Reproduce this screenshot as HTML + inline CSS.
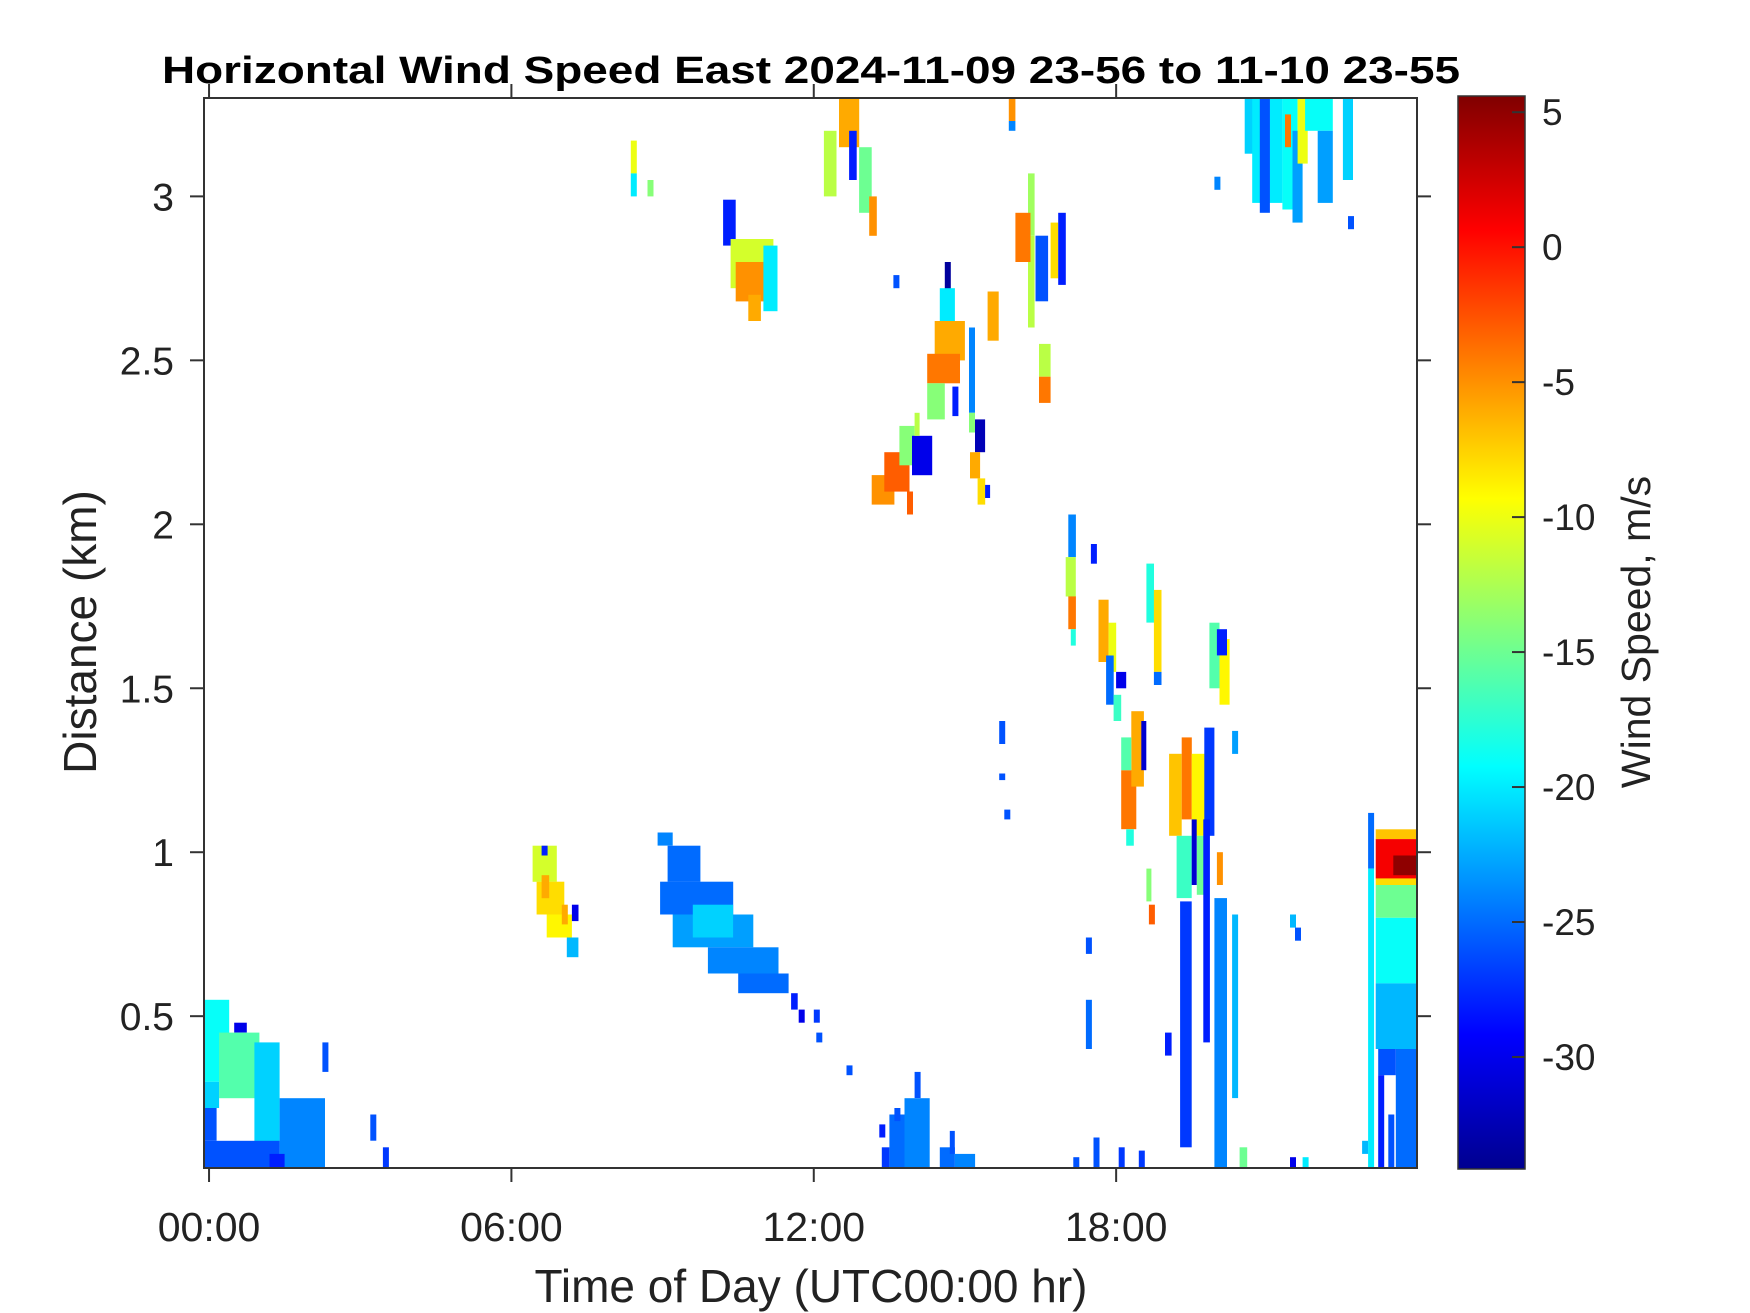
<!DOCTYPE html>
<html><head><meta charset="utf-8"><style>
html,body{margin:0;padding:0;background:#fff;}
svg{display:block;font-family:"Liberation Sans",Arial,sans-serif;}
</style></head><body>
<svg id="chart" width="1750" height="1313" viewBox="0 0 1750 1313" xmlns="http://www.w3.org/2000/svg">
<rect x="0" y="0" width="1750" height="1313" fill="#fff"/>
<text x="811" y="83" text-anchor="middle" font-size="38" font-weight="bold" fill="#000" textLength="1298" lengthAdjust="spacingAndGlyphs">Horizontal Wind Speed East 2024-11-09 23-56 to 11-10 23-55</text>
<g id="cells"></g>
<g id="axes"></g>
<defs><linearGradient id="jet" x1="0" y1="1" x2="0" y2="0">
<stop offset="0" stop-color="#00008f"/><stop offset="0.125" stop-color="#0000ff"/><stop offset="0.375" stop-color="#00ffff"/><stop offset="0.625" stop-color="#ffff00"/><stop offset="0.875" stop-color="#ff0000"/><stop offset="1" stop-color="#800000"/>
</linearGradient></defs>
<rect x="1458" y="96" width="67" height="1073" fill="url(#jet)" stroke="#333" stroke-width="1.5"/>
<g id="cbticks"></g>
<text transform="translate(1650,632) rotate(-90)" text-anchor="middle" font-size="41" fill="#222">Wind Speed, m/s</text>
<text x="811" y="1302" text-anchor="middle" font-size="46" fill="#222">Time of Day (UTC00:00 hr)</text>
<text transform="translate(96,632) rotate(-90)" text-anchor="middle" font-size="46" fill="#222">Distance (km)</text>
</svg>
<script>
// axis domains
const tMin = -0.1, tMax = 23.97;
const dMin = 0.037, dMax = 3.30;
const vMin = -34.15, vMax = 5.6;
const xTicks = [0, 6, 12, 18];
const xTickLabels = ["00:00", "06:00", "12:00", "18:00"];
const yTicks = [0.5, 1, 1.5, 2, 2.5, 3];
const yTickLabels = ["0.5", "1", "1.5", "2", "2.5", "3"];
const cbTicks = [5, 0, -5, -10, -15, -20, -25, -30];
const cbTickLabels = ["5", "0", "-5", "-10", "-15", "-20", "-25", "-30"];
// heatmap patches: [startHour, endHour, fromKm, toKm, windSpeed]
const cellData = [
[-0.1,0.4,0.30,0.55,-19],[0.2,1.0,0.25,0.45,-16],[-0.1,0.2,0.22,0.30,-21],[0.9,1.4,0.10,0.42,-21],
[-0.1,1.4,0.04,0.12,-26],[-0.1,0.15,0.12,0.22,-26],[1.4,2.3,0.04,0.25,-24],[1.2,1.5,0.04,0.08,-28],
[0.5,0.75,0.45,0.48,-30],[2.25,2.37,0.33,0.42,-26],[3.2,3.32,0.12,0.20,-26],[3.45,3.57,0.04,0.10,-27],
[6.42,6.9,0.91,1.02,-11],[6.5,7.05,0.81,0.91,-8],[6.7,7.2,0.74,0.81,-9],[7.1,7.33,0.68,0.74,-22],
[6.6,6.75,0.86,0.93,-6],[7.0,7.12,0.78,0.84,-6],[7.2,7.33,0.79,0.84,-30],[6.6,6.72,0.99,1.02,-28],
[8.9,9.2,1.02,1.06,-24],[9.1,9.75,0.91,1.02,-25],[8.95,10.4,0.81,0.91,-25],[9.2,10.8,0.71,0.81,-23],
[9.9,11.3,0.63,0.71,-24],[10.5,11.5,0.57,0.63,-25],[9.6,10.4,0.74,0.84,-21],[11.55,11.68,0.52,0.57,-28],
[11.7,11.82,0.48,0.52,-30],[12.0,12.12,0.48,0.52,-27],[12.05,12.17,0.42,0.45,-26],[12.65,12.77,0.32,0.35,-26],
[8.37,8.49,3.07,3.17,-10],[8.37,8.49,3.0,3.07,-20],[8.7,8.82,3.0,3.05,-14],
[10.2,10.45,2.85,2.99,-28],[10.35,11.2,2.72,2.87,-11],[10.45,11.05,2.68,2.8,-5],[11.0,11.28,2.65,2.85,-20],[10.7,10.95,2.62,2.7,-6],
[12.5,12.9,3.15,3.3,-6],[12.2,12.45,3.0,3.2,-12],[12.7,12.85,3.05,3.2,-28],[12.9,13.15,2.95,3.15,-15],[13.1,13.25,2.88,3.0,-5],
[13.15,13.6,2.06,2.15,-5],[13.4,13.9,2.1,2.22,-3],[13.7,14.0,2.18,2.3,-14],[13.95,14.35,2.15,2.27,-30],[14.0,14.1,2.27,2.34,-12],[13.85,13.97,2.03,2.1,-3],
[15.2,15.4,2.22,2.32,-32],[15.1,15.3,2.14,2.22,-6],[15.25,15.4,2.06,2.14,-8],[15.4,15.5,2.08,2.12,-28],
[14.6,14.72,2.7,2.8,-33],[14.5,14.8,2.62,2.72,-20],[14.4,15.0,2.5,2.62,-6],[14.25,14.9,2.43,2.52,-4],[14.25,14.6,2.32,2.43,-14],
[14.75,14.87,2.33,2.42,-28],[15.08,15.2,2.34,2.6,-24],[15.08,15.2,2.28,2.34,-14],[15.45,15.67,2.56,2.71,-6],[13.58,13.7,2.72,2.76,-26],
[15.87,16.0,3.23,3.3,-5],[15.87,16.0,3.2,3.23,-24],[16.25,16.38,2.88,3.07,-13],[16.25,16.38,2.6,2.88,-12],[16.0,16.3,2.8,2.95,-4],
[16.4,16.65,2.68,2.88,-26],[16.7,16.85,2.75,2.92,-8],[16.85,17.0,2.73,2.95,-28],[16.47,16.7,2.45,2.55,-12],[16.47,16.7,2.37,2.45,-4],
[20.55,20.75,3.13,3.3,-21],[20.7,21.3,2.98,3.3,-20],[20.85,21.05,2.95,3.3,-26],[21.3,21.6,2.96,3.3,-19],[21.5,21.7,2.92,3.2,-23],
[21.6,21.8,3.1,3.3,-10],[21.35,21.47,3.15,3.25,-4],[21.75,22.3,3.2,3.3,-19],[22.0,22.3,2.98,3.2,-23],[22.5,22.7,3.05,3.3,-21],
[22.6,22.72,2.9,2.94,-26],[19.95,20.07,3.02,3.06,-24],
[17.05,17.2,1.9,2.03,-24],[17.0,17.2,1.78,1.9,-12],[17.05,17.2,1.68,1.78,-4],[17.1,17.2,1.63,1.68,-18],[17.5,17.62,1.88,1.94,-28],
[17.65,17.85,1.58,1.77,-6],[17.85,18.0,1.55,1.7,-10],[17.8,17.95,1.45,1.6,-25],[18.0,18.2,1.5,1.55,-30],[17.95,18.1,1.4,1.48,-17],
[18.1,18.4,1.07,1.25,-4],[18.3,18.55,1.2,1.43,-6],[18.5,18.6,1.25,1.4,-31],[18.1,18.3,1.25,1.35,-16],[18.2,18.35,1.02,1.07,-18],
[18.6,18.75,1.7,1.88,-18],[18.75,18.9,1.55,1.8,-8],[18.75,18.9,1.51,1.55,-25],
[19.05,19.3,1.05,1.3,-7],[19.3,19.5,1.1,1.35,-4],[19.5,19.8,1.05,1.3,-9],[19.75,19.95,1.05,1.38,-27],[19.6,19.8,0.87,1.05,-15],
[19.2,19.5,0.86,1.05,-17],[19.5,19.6,0.9,1.1,-31],[19.85,20.05,1.5,1.7,-16],[20.05,20.25,1.45,1.65,-9],[20.0,20.2,1.6,1.68,-28],
[20.3,20.42,1.3,1.37,-23],[20.0,20.12,0.9,1.0,-5],[18.65,18.77,0.78,0.84,-3],[18.6,18.7,0.85,0.95,-14],
[19.27,19.5,0.1,0.85,-27],[19.73,19.86,0.42,1.1,-28],[19.95,20.2,0.04,0.86,-24],[20.3,20.42,0.25,0.81,-22],[20.45,20.6,0.04,0.1,-15],
[18.97,19.1,0.38,0.45,-28],[17.4,17.52,0.69,0.74,-26],[17.4,17.52,0.4,0.55,-25],[17.15,17.27,0.04,0.07,-26],[17.55,17.67,0.04,0.13,-26],
[18.05,18.17,0.04,0.1,-27],[18.45,18.57,0.04,0.09,-27],[21.45,21.57,0.04,0.07,-30],[21.7,21.82,0.04,0.07,-20],
[21.45,21.57,0.77,0.81,-22],[21.55,21.67,0.73,0.77,-26],
[23.15,24,1.04,1.07,-7],[23.15,24,0.92,1.04,1],[23.5,24,0.93,0.99,5],[23.15,24,0.9,0.92,-8],[23.15,24,0.8,0.9,-15],
[23.15,24,0.6,0.8,-19],[23.15,24,0.4,0.6,-22],[23.55,24,0.04,0.4,-25],[23.2,23.55,0.32,0.4,-26],[23.2,23.32,0.04,0.32,-28],
[23.4,23.52,0.04,0.2,-26],[23.0,23.12,0.95,1.12,-25],[23.0,23.12,0.04,0.95,-20],[22.88,23.0,0.08,0.12,-22],
[13.35,13.5,0.04,0.1,-27],[13.5,13.8,0.04,0.2,-25],[13.8,14.3,0.04,0.25,-24],[14.0,14.12,0.25,0.33,-26],[14.5,14.8,0.04,0.1,-25],
[14.8,15.2,0.04,0.08,-24],[14.7,14.8,0.08,0.15,-26],[13.3,13.42,0.13,0.17,-28],[13.6,13.72,0.18,0.22,-26],
[15.68,15.8,1.33,1.4,-26],[15.68,15.8,1.22,1.24,-26],[15.78,15.9,1.1,1.13,-26]
];
const L=204,R=1417,T=98,B=1168;
function xs(t){return L+(t-tMin)/(tMax-tMin)*(R-L);}
function ys(d){return B-(d-dMin)/(dMax-dMin)*(B-T);}
function cy(v){return 1169-(v-vMin)/(vMax-vMin)*(1169-96);}
function jet(v){
  let f=(v-vMin)/(vMax-vMin); f=Math.max(0,Math.min(1,f));
  const c=(a)=>Math.round(255*Math.max(0,Math.min(1,a)));
  const r=c(Math.min(4*f-1.5,-4*f+4.5)), g=c(Math.min(4*f-0.5,-4*f+3.5)), b=c(Math.min(4*f+0.5,-4*f+2.5));
  return `rgb(${r},${g},${b})`;
}
const NS="http://www.w3.org/2000/svg";
function mk(tag,attrs,parent){const e=document.createElementNS(NS,tag);for(const k in attrs)e.setAttribute(k,attrs[k]);parent.appendChild(e);return e;}
const cells=document.getElementById('cells');
cellData.forEach(function(c){
  const x0=xs(Math.max(c[0],tMin)), x1=xs(Math.min(c[1],tMax));
  const y0=ys(Math.min(c[3],dMax)), y1=ys(Math.max(c[2],dMin));
  const r=mk('rect',{x:x0.toFixed(1),y:y0.toFixed(1),width:(x1-x0).toFixed(1),height:(y1-y0).toFixed(1),fill:jet(c[4])},cells);
  
  
});
const ax=document.getElementById('axes');
const box=mk('rect',{x:L,y:T,width:R-L,height:B-T,fill:'none',stroke:'#333','stroke-width':2},ax);


xTicks.forEach(function(t,i){
  const x=xs(t);
  mk('line',{x1:x,y1:B,x2:x,y2:B+14,stroke:'#333','stroke-width':2},ax);
  mk('line',{x1:x,y1:T,x2:x,y2:T-14,stroke:'#333','stroke-width':2},ax);
  const tx=mk('text',{x:x,y:1241,'text-anchor':'middle','font-size':41,fill:'#222'},ax);
  tx.textContent=xTickLabels[i];
  
  
});
yTicks.forEach(function(d,i){
  const y=ys(d);
  mk('line',{x1:L,y1:y,x2:L-14,y2:y,stroke:'#333','stroke-width':2},ax);
  mk('line',{x1:R,y1:y,x2:R+14,y2:y,stroke:'#333','stroke-width':2},ax);
  const tx=mk('text',{x:174,y:y+14,'text-anchor':'end','font-size':39,fill:'#222'},ax);
  tx.textContent=yTickLabels[i];
  
  
});
const cb=document.getElementById('cbticks');
cbTicks.forEach(function(v,i){
  const y=cy(v);
  mk('line',{x1:1525,y1:y,x2:1512,y2:y,stroke:'#333','stroke-width':2},cb);
  const tx=mk('text',{x:1542,y:y+13,'text-anchor':'start','font-size':37,fill:'#222'},cb);
  tx.textContent=cbTickLabels[i];
  
  
});
</script>
</body></html>
